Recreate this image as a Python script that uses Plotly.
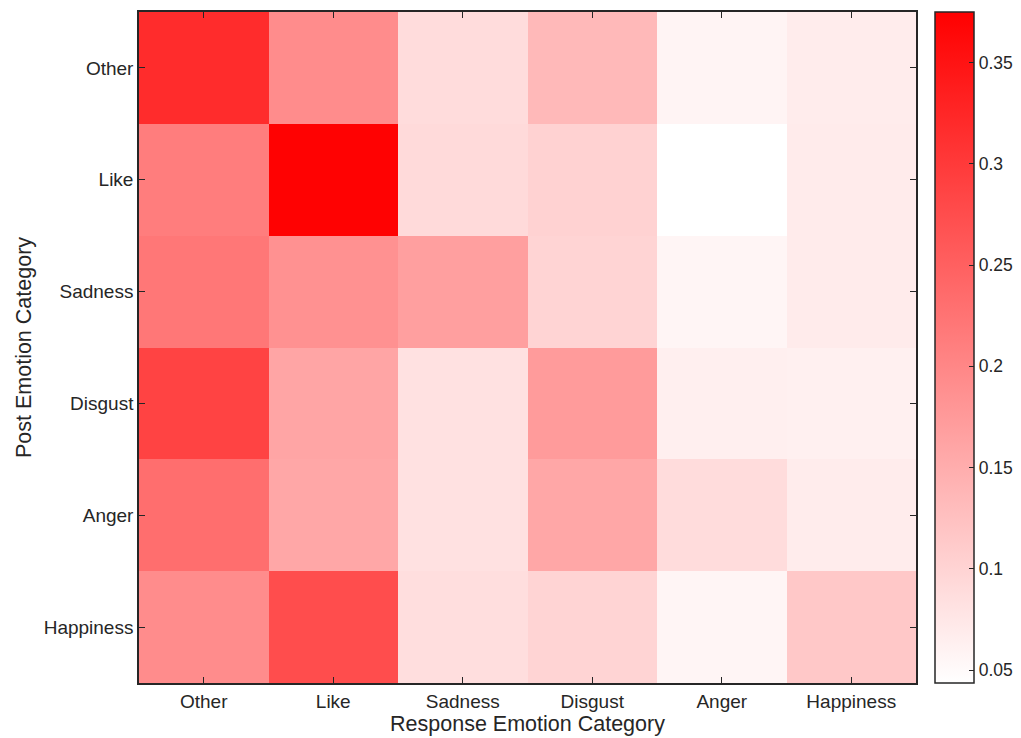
import plotly.graph_objects as go

response_cats = ["Other", "Like", "Sadness", "Disgust", "Anger", "Happiness"]
post_cats = ["Other", "Like", "Sadness", "Disgust", "Anger", "Happiness"]

# rows = post emotion, columns = response emotion
values = [
    [0.318, 0.193, 0.089, 0.134, 0.058, 0.068],
    [0.213, 0.372, 0.092, 0.102, 0.0436, 0.070],
    [0.220, 0.186, 0.168, 0.100, 0.057, 0.070],
    [0.288, 0.160, 0.083, 0.173, 0.065, 0.063],
    [0.232, 0.158, 0.083, 0.158, 0.089, 0.068],
    [0.193, 0.275, 0.087, 0.100, 0.057, 0.115],
]

cb_ticks = [0.05, 0.1, 0.15, 0.2, 0.25, 0.3, 0.35]
cb_ticktext = ["0.05", "0.1", "0.15", "0.2", "0.25", "0.3", "0.35"]

FONT = "Liberation Sans, Arial, Helvetica"
DARK = "#262626"

fig = go.Figure(go.Heatmap(
    z=values, x=response_cats, y=post_cats,
    colorscale=[[0, "rgb(255,255,255)"], [1, "rgb(255,0,0)"]],
    zmin=0.0436, zmax=0.375,
    colorbar=dict(
        x=1.0245, xanchor="left", xref="paper",
        y=0.5, yanchor="middle", len=1.0, lenmode="fraction",
        thickness=39, thicknessmode="pixels",
        outlinewidth=1.5, outlinecolor=DARK,
        ticks="inside", ticklen=5, tickcolor=DARK,
        tickvals=cb_ticks, ticktext=cb_ticktext,
        tickfont=dict(family=FONT, size=17.5, color=DARK),
        xpad=0, ypad=0,
    ),
))

axis_common = dict(
    showline=True, linecolor=DARK, linewidth=1.5, mirror="ticks",
    ticks="inside", ticklen=6, tickcolor=DARK, tickwidth=1.2,
    showgrid=False, zeroline=False,
    tickfont=dict(family=FONT, size=19, color=DARK),
)

fig.update_layout(
    width=1021, height=738,
    margin=dict(l=131, r=113, t=2, b=63),
    paper_bgcolor="white", plot_bgcolor="white",
    xaxis=dict(**axis_common,
               title=dict(text="Response Emotion Category", standoff=4,
                          font=dict(family=FONT, size=21.5, color=DARK))),
    yaxis=dict(**axis_common, autorange="reversed",
               title=dict(text="Post Emotion Category", standoff=6,
                          font=dict(family=FONT, size=21.5, color=DARK))),
)

fig.write_html("out.html")
